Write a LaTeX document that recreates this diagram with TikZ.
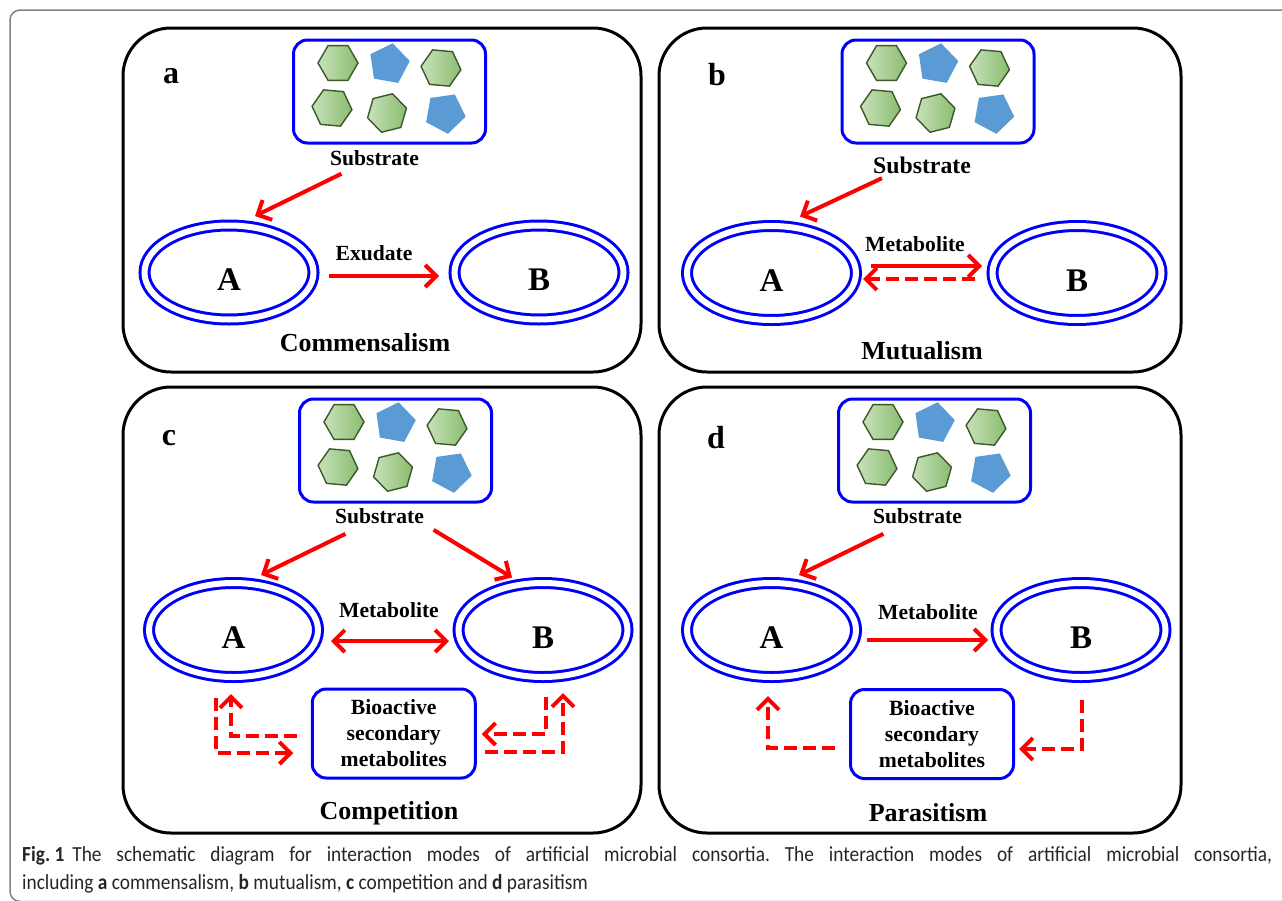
\documentclass[tikz,border=0pt]{standalone}
\usepackage{fontspec}
\setmainfont{Liberation Serif}
\newfontfamily\capfont[FakeStretch=0.9]{Carlito}
\usetikzlibrary{positioning,shapes.geometric,arrows.meta}

\definecolor{cellblue}{RGB}{0,0,250}
\definecolor{hexlight}{RGB}{200,226,186}
\definecolor{hexdark}{RGB}{138,188,112}
\definecolor{hexline}{RGB}{60,88,40}
\definecolor{pentblue}{RGB}{91,155,213}
\definecolor{captext}{RGB}{40,36,37}
\definecolor{framegray}{RGB}{130,130,130}

% six particles inside a substrate box
\newcommand{\particles}[1]{%
\node[hexa]            (#1-h1) at ([shift={(-51.5,-28.5)}]#1.center) {};
\node[penta,rotate=-10] (#1-p1) at ([shift={(-0.5,-27.5)}]#1.center) {};
\node[hexa,rotate=-5]  (#1-h2) at ([shift={(51.5,-23.5)}]#1.center) {};
\node[hexa,rotate=-5]  (#1-h3) at ([shift={(-57.5,16.5)}]#1.center) {};
\node[hexa,rotate=14]  (#1-h4) at ([shift={(-2.5,21.5)}]#1.center) {};
\node[penta,rotate=188] (#1-p2) at ([shift={(55.5,21.5)}]#1.center) {};
}

\begin{document}
\begin{tikzpicture}[x=1pt,y=-1pt,
  panel/.style={draw=black,line width=3pt,rounded corners=48pt},
  subbox/.style={draw=cellblue,line width=3pt,rounded corners=14pt,minimum width=192pt,minimum height=103pt,inner sep=0pt},
  cell/.style={ellipse,draw=cellblue,double=white,double distance=6pt,line width=3pt,minimum width=169pt,minimum height=94pt,inner sep=0pt,text height=36pt,text depth=0pt,font=\fontsize{33}{33}\selectfont\bfseries},
  biobox/.style={draw=cellblue,line width=3pt,rounded corners=14pt,minimum width=163pt,minimum height=89pt,inner sep=0pt,align=center,font=\fontsize{21.7}{26}\selectfont\bfseries},
  lbl/.style={inner sep=0pt,font=\fontsize{21.6}{26}\selectfont\bfseries},
  title/.style={inner sep=0pt,font=\fontsize{26}{30}\selectfont\bfseries},
  letter/.style={inner sep=0pt,font=\fontsize{32}{32}\selectfont\bfseries},
  hexa/.style={regular polygon,regular polygon sides=6,minimum size=40pt,inner sep=0pt,draw=hexline,line width=1.4pt,left color=hexlight,right color=hexdark},
  penta/.style={regular polygon,regular polygon sides=5,minimum size=42pt,inner sep=0pt,fill=pentblue},
  flow/.style={draw=red,line width=4pt,-{Straight Barb[length=11pt,width=22pt]}},
  back/.style={flow,dash pattern=on 13pt off 6pt},
  captxt/.style={anchor=base west,inner sep=0pt,text=captext,font=\capfont\fontsize{21.5}{25}\selectfont\frenchspacing}]
\useasboundingbox (0,0) rectangle (1282,900);
\clip (0,0) rectangle (1282,900);
\draw[framegray,line width=1.5pt,rounded corners=10pt] (1290,10) -- (10,10) -- (10,901.5) -- (1290,901.5);

% a: commensalism
\draw[panel] (123,28) rectangle (641,372);
\node[subbox] (a-box) at (389.5,91.5) {};
\particles{a-box}
\node[lbl,below=6pt of a-box,xshift=-15pt] (a-sub) {Substrate};
\node[letter] (a-lab) at (171,76) {a};
\node[cell] (a-A) at (229,272.5) {A};
\node[cell] (a-B) at (539,272.5) {B};
\node[title] (a-tit) at (365,343) {Commensalism};

\draw[flow] ([shift={(11.5,7.6)}]a-sub.south west) -- ([shift={(26,-8)}]a-A.north);
\draw[flow] ([shift={(14,3.5)}]a-A.east) -- node[lbl,midway,above=13.5pt,xshift=-10pt] {Exudate} ([shift={(-14,3.5)}]a-B.west);

% b: mutualism
\draw[panel] (659,28) rectangle (1181,372);
\node[subbox] (b-box) at (938,91.5) {};
\particles{b-box}
\node[lbl,font=\fontsize{23.8}{28}\selectfont\bfseries,below=12.5pt of b-box,xshift=-16pt] (b-sub) {Substrate};
\node[letter] (b-lab) at (717,75) {b};
\node[cell] (b-A) at (771.5,273) {A};
\node[cell] (b-B) at (1077,273) {B};
\node[title] (b-tit) at (922,351) {Mutualism};

\draw[flow] ([shift={(9,4)}]b-sub.south west) -- ([shift={(28.5,-8)}]b-A.north);
\draw[flow] ([shift={(13.5,-7)}]b-A.east) -- node[lbl,midway,above=12.5pt,xshift=-11.5pt] {Metabolite} ([shift={(-9,-7)}]b-B.west);
\draw[back] ([shift={(-16,6)}]b-B.west) -- ([shift={(5.5,6)}]b-A.east);

% c: competition
\draw[panel] (123,387) rectangle (641,833);
\node[subbox] (c-box) at (395.5,450.5) {};
\particles{c-box}
\node[lbl,below=5pt of c-box,xshift=-16pt] (c-sub) {Substrate};
\node[letter] (c-lab) at (169,438) {c};
\node[cell] (c-A) at (233.5,630) {A};
\node[cell] (c-B) at (543,630) {B};
\node[biobox] (c-bio) at (393.75,733.5) {Bioactive\\secondary\\metabolites};
\node[title] (c-tit) at (389,813) {Competition};

\draw[flow] ([shift={(10.5,9.7)}]c-sub.south west) -- ([shift={(27.5,-6.5)}]c-A.north);
\draw[flow] ([shift={(9.5,5.7)}]c-sub.south east) -- ([shift={(-31,-4)}]c-B.north);
\draw[flow,{Straight Barb[length=11pt,width=22pt]}-{Straight Barb[length=11pt,width=22pt]}] ([shift={(11.5,11)}]c-A.east) -- node[lbl,midway,above=21.5pt,xshift=-1pt] {Metabolite} ([shift={(-8,11)}]c-B.west);
\draw[back] ([shift={(-17.5,19.5)}]c-A.south) |- ([shift={(-17.5,19.5)}]c-bio.west);
\draw[back] ([shift={(-13.5,2.5)}]c-bio.west) -| ([shift={(-2.5,15.5)}]c-A.south);
\draw[back] ([shift={(3,18.5)}]c-B.south) |- ([shift={(5,0.5)}]c-bio.east);
\draw[back] ([shift={(8,18.5)}]c-bio.east) -| ([shift={(20,14.5)}]c-B.south);

% d: parasitism
\draw[panel] (659,387) rectangle (1181,833);
\node[subbox] (d-box) at (934.5,450.5) {};
\particles{d-box}
\node[lbl,below=5pt of d-box,xshift=-17pt] (d-sub) {Substrate};
\node[letter] (d-lab) at (716,438) {d};
\node[cell] (d-A) at (771.5,630) {A};
\node[cell] (d-B) at (1081,630) {B};
\node[biobox] (d-bio) at (932,734) {Bioactive\\secondary\\metabolites};
\node[title] (d-tit) at (928,813) {Parasitism};

\draw[flow] ([shift={(10.5,9.7)}]d-sub.south west) -- ([shift={(27.5,-6.5)}]d-A.north);
\draw[flow] ([shift={(9.5,10)}]d-A.east) -- node[lbl,midway,above=18.5pt,xshift=0.5pt] {Metabolite} ([shift={(-7,10)}]d-B.west);
\draw[back] ([shift={(-14,14)}]d-bio.west) -| ([shift={(-3.5,17.5)}]d-A.south);
\draw[back] ([shift={(1,21.5)}]d-B.south) |- ([shift={(4,15)}]d-bio.east);

% caption
\node[captxt] (cap1) at (22,861)
  {\makebox[1250pt][s]{\textbf{\mbox{Fig. 1}}\hspace{8pt}The schematic diagram for interaction modes of artificial microbial consortia. The interaction modes of artificial microbial consortia,}};
\node[captxt] (cap2) at (22,889)
  {including \textbf{a} commensalism, \textbf{b} mutualism, \textbf{c} competition and \textbf{d} parasitism};
\end{tikzpicture}
\end{document}
